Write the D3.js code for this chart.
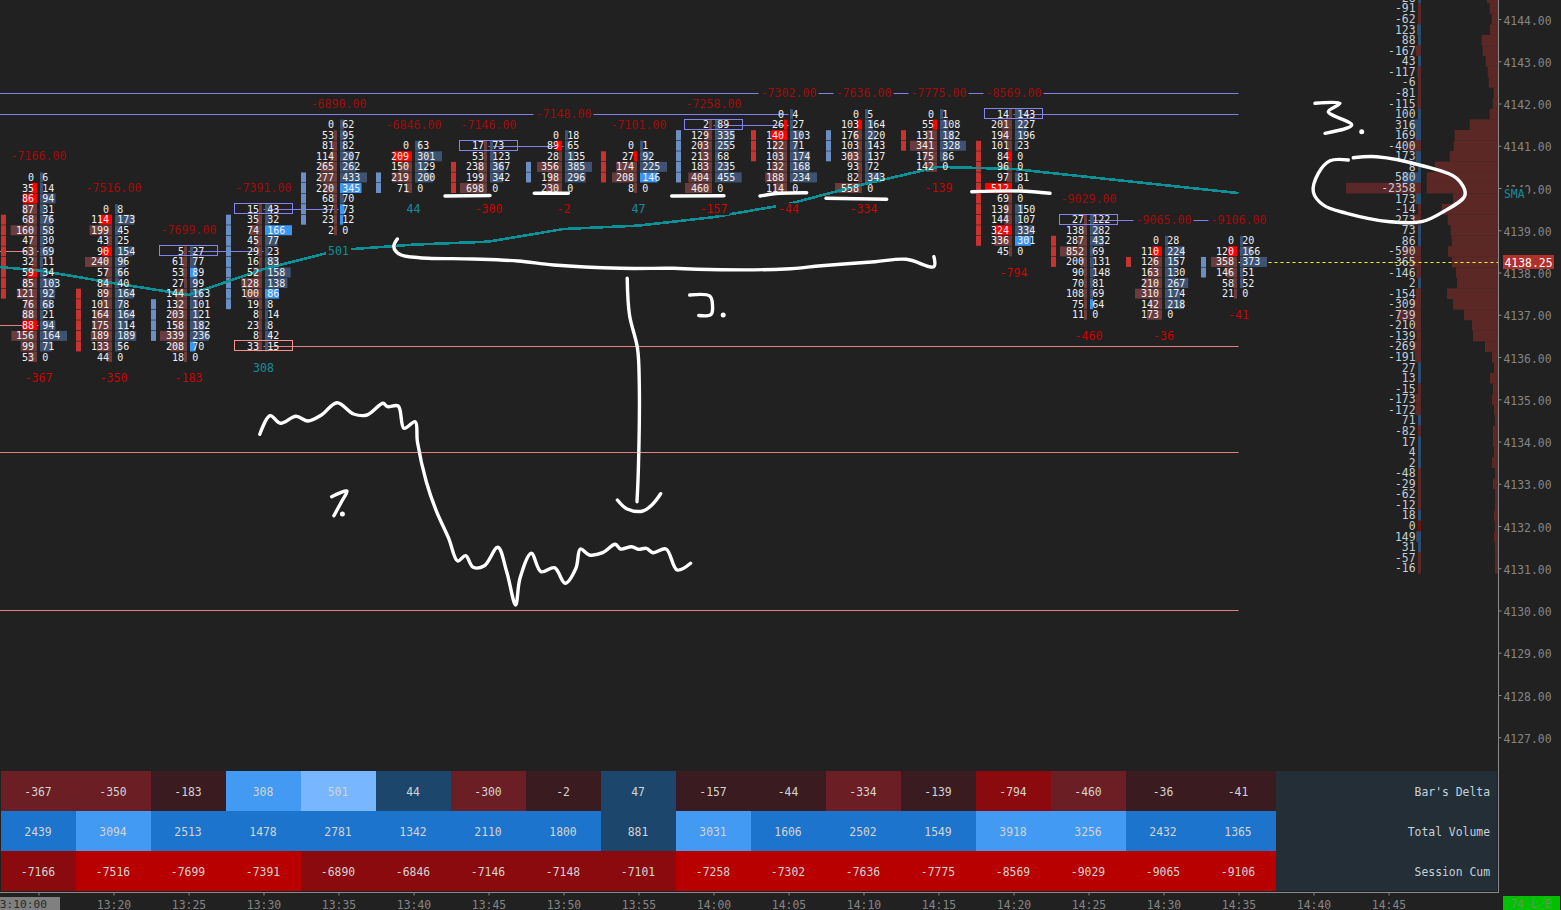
<!DOCTYPE html>
<html>
<head>
    <meta charset="utf-8">
    <title>Footprint chart</title>
    <script src="https://d3js.org/d3.v7.min.js"></script>
    <style>
        html, body { margin: 0; padding: 0; background: #212121; overflow: hidden; }
        svg { display: block; }
        text { font-family: "DejaVu Sans Mono", monospace; dominant-baseline: central; }
        .fp { font-size: 10px; fill: #f0f0f0; }
        .cum { font-size: 11.6px; fill: #a00c0c; text-anchor: middle; }
        .delta { font-size: 11.6px; text-anchor: middle; }
        .cell { font-size: 11.4px; fill: #d4d4d4; text-anchor: middle; }
        .rowname { font-size: 11.4px; fill: #c5d3dc; text-anchor: end; }
        .ladder { font-size: 11.4px; fill: #c6ced6; text-anchor: end; }
        .axis text { font-size: 11.4px; fill: #858585; }
        .axis line, .axis path { stroke: #8a8a8a; }
        .ink { fill: none; stroke: #fff; stroke-width: 3.4; stroke-linecap: round; stroke-linejoin: round; }
    </style>
</head>
<body>
<div id="chart"></div>
<script>
    // bars, top row first
    const barTimes = ["13:15","13:20","13:25","13:30","13:35","13:40","13:45","13:50","13:55","14:00","14:05","14:10","14:15","14:20","14:25","14:30","14:35"];
    const topPrices = [4140.25,4139.5,4138.5,4139.5,4141.5,4141,4141,4141.25,4141,4141.5,4141.75,4141.75,4141.75,4141.75,4139.25,4138.75,4138.75];
    const bidVolumes = [
        [0,35,86,87,68,160,47,63,32,59,85,121,76,88,88,156,99,53],
        [0,114,199,43,90,240,57,84,89,101,164,175,189,133,44],
        [5,61,53,27,144,132,203,158,339,208,18],
        [15,35,74,45,29,16,52,128,100,19,8,23,8,33],
        [0,53,81,114,265,277,220,68,37,23,2],
        [0,209,150,219,71],
        [17,53,238,199,698],
        [0,89,28,356,198,230],
        [0,27,174,208,8],
        [2,129,203,213,183,404,460],
        [0,26,140,122,103,132,188,114],
        [0,103,176,103,303,93,82,558],
        [0,55,131,341,175,142],
        [14,201,194,101,84,96,97,512,69,139,144,324,336,45],
        [27,138,287,852,200,90,70,108,75,11],
        [0,110,126,163,210,310,142,173],
        [0,120,358,146,58,21]
    ];
    const askVolumes = [
        [6,14,94,31,76,58,30,69,11,34,103,92,68,21,94,164,71,0],
        [8,173,45,25,154,96,66,40,164,78,164,114,189,56,0],
        [27,77,89,99,163,101,121,182,236,70,0],
        [43,32,166,77,23,83,158,138,86,8,14,8,42,15],
        [62,95,82,207,262,433,345,70,73,12,0],
        [63,301,129,200,0],
        [73,123,367,342,0],
        [18,65,135,385,296,0],
        [1,92,225,146,0],
        [89,335,255,68,235,455,0],
        [4,27,103,71,174,168,234,0],
        [5,164,220,143,137,72,343,0],
        [1,108,182,328,86,0],
        [143,227,196,23,0,0,81,0,0,150,107,334,301,0],
        [122,282,432,69,131,148,81,69,64,0],
        [28,224,157,130,267,174,218,0],
        [20,166,373,51,52,0]
    ];
    // row indexes shown in the bright colour
    const bidHot = [[1,2,9,14],[1,4],[],[],[],[1],[],[1],[1],[],[1,2],[1],[1],[4,7,11],[],[1],[1]];
    const askHot = [[],[],[2,9],[2,8],[6,8,9],[],[],[],[3],[],[],[],[],[12],[8],[],[]];
    // stacked imbalance runs: first row, last row, side
    const stackFirst = [4,8,5,1,5,3,2,3,1,1,2,2,2,3,2,2,2];
    const stackLast = [11,13,8,9,9,4,4,4,3,5,4,4,3,12,4,2,3];
    const stackSide = ["bid","bid","ask","ask","ask","ask","bid","ask","bid","ask","bid","ask","bid","bid","bid","bid","ask"];

    const barDelta = [-367,-350,-183,308,501,44,-300,-2,47,-157,-44,-334,-139,-794,-460,-36,-41];
    const totalVolume = [2439,3094,2513,1478,2781,1342,2110,1800,881,3031,1606,2502,1549,3918,3256,2432,1365];
    const sessionCum = [-7166,-7516,-7699,-7391,-6890,-6846,-7146,-7148,-7101,-7258,-7302,-7636,-7775,-8569,-9029,-9065,-9106];

    const smaTimes = ["13:10"].concat(barTimes);
    const smaValues = [4138.2,4138.05,4137.75,4137.47,4138.08,4138.53,4138.66,4138.73,4139.03,4139.11,4139.31,4139.62,4140.09,4140.5,4140.45,4140.26,4140.07,4139.88];

    // price, from, to
    const blueLevels = [[4142.25,"13:10","14:35"],[4141.75,"13:10","14:05"],[4141.75,"14:20","14:35"],[4141.5,"14:00","14:05"],[4141,"13:45","13:50"],[4139.5,"13:30","13:35"],[4139.25,"14:25","14:35"],[4138.5,"13:25","13:30"]];
    const pinkLevels = [[4138.5,"13:10","13:15"],[4136.75,"13:10","13:15"],[4136.25,"13:30","14:35"],[4133.75,"13:10","14:35"],[4130,"13:10","14:35"]];
    // boxes on the row: bar index, row index
    const blueBoxes = [[2,0],[3,0],[6,0],[9,0],[13,0],[14,0]];
    const pinkBoxes = [[3,13]];

    // session ladder and volume profile, from 4144.50 down to 4131.00
    const ladderTop = 4144.5;
    const ladderDelta = [28,-91,-62,123,88,-167,43,-117,-6,-81,-115,100,316,169,-400,173,8,580,-2358,173,-14,-273,73,86,-590,-365,-146,2,-154,-309,-739,-210,-139,-269,-191,27,13,-15,-173,-172,71,-82,17,4,2,-48,-29,-62,-12,18,0,149,31,-57,-16];
    const profileVolume = [1100,830,630,800,1630,1530,1230,1030,930,430,530,830,2830,4330,4430,4830,6330,7130,7130,4500,5630,5030,4730,4630,5000,4600,4200,4100,5100,4500,3400,2600,2500,1300,600,400,800,500,600,400,300,500,500,400,600,300,500,300,300,400,300,400,300,300,300];

    const priceTicks = d3.range(4127, 4145);
    const timeTicks = ["13:15","13:20","13:25","13:30","13:35","13:40","13:45","13:50","13:55","14:00","14:05","14:10","14:15","14:20","14:25","14:30","14:35","14:40","14:45"];
    const lastPrice = 4138.25;

    // freehand pen marks on top of the screenshot, page pixels
    const inkStrokes = [
        [[259.8,434.3],[270.1,415.7],[280.4,423.3],[296,416.3],[308,421],[321.4,415],[337,402.7],[353.6,414],[367,415],[383,403.3],[387.5,406.7],[398.2,406],[404,428.3],[415.2,421.7],[417.4,441.7],[426.3,481.7],[436.6,511.7],[448.7,538.3],[457.6,561],[465.6,555.7],[473.2,567.3],[484.4,565.7],[497.8,547.3],[506.7,571.7],[515.6,605],[520,578.3],[531.3,553.3],[541,571.7],[554.5,567.7],[565.2,583.3],[575.9,568.3],[580.4,549],[589.3,555],[602.7,552.7],[615.2,544.3],[620.5,549],[631.7,546.7],[638.4,549.3],[646.4,548.3],[653.1,552.7],[666,549],[677.2,570],[690.6,563.3]],
        [[331.7,496.7],[346.9,491],[341.5,501.7],[333.9,515.7]],
        [[397.3,239],[393.8,246.7],[399.6,254.3],[419.6,257.7],[473.2,259],[517.9,261],[553.6,265],[620.5,268.3],[674,268.3],[696.4,269.3],[785.7,269],[821.4,265.7],[875,261.7],[906.3,259.3],[933.9,266.7],[933.9,256.7]],
        [[627.2,278.3],[629.5,315],[637.5,348.3],[639.3,385],[638.4,468.3],[637,501.7]],
        [[617.4,500],[627.2,509],[642.9,511],[651.8,505],[660.7,493.7]],
        [[689.7,295],[709.8,296],[712.5,305],[711,314.5],[698.7,315.5]],
        [[445,196],[490,195.5]],
        [[534.3,193.3],[568.3,193.3]],
        [[671.7,196],[724,195.7]],
        [[760,196],[780,193.3],[806.7,192.7]],
        [[826,198.3],[886.7,199.3]],
        [[971.7,191.7],[1020,191],[1050,193.3]],
        [[1315,103.3],[1340,103.3],[1328.3,111.7],[1351.7,125],[1325,133.3]],
        [[1348.3,160],[1330,160.7],[1318.3,173.3],[1313.3,191.7],[1323.3,205],[1346.7,213.3],[1390,221.7],[1421.7,221.7],[1443.3,211.7],[1465,195],[1456.7,178.3],[1423.3,166],[1376.7,156.7],[1353.3,157.7]]
    ];
    const inkDots = [[342.4,514],[723.2,315],[1361.7,131.7]];

    const width = 1561, height = 910;
    const parseTime = d3.timeParse("%H:%M");
    const x = d3.scaleTime().domain([parseTime("13:15"), parseTime("14:45")]).range([38.5, 1388.5]);
    const y = d3.scaleLinear().domain([4144, 4127]).range([19, 737.25]);
    const rowStep = y(0) - y(0.25);
    const barX = i => x(parseTime(barTimes[i]));
    const rowPrice = (i, r) => topPrices[i] - r * 0.25;
    const bottomPrice = i => rowPrice(i, bidVolumes[i].length - 1);
    const axisRight = 1498.5, axisBottom = 892.5;
    const maxBarWidth = 27;

    const svg = d3.select("#chart").append("svg").attr("width", width).attr("height", height);
    svg.append("rect").attr("width", width).attr("height", height).attr("fill", "#212121");

    // session ladder + profile
    const ladderRows = ladderDelta.map((v, k) => ({ v, vol: profileVolume[k], price: ladderTop - k * 0.25 }));
    const ladderW = d3.scaleLinear().domain([0, 2358]).range([0, 75]);
    const profileW = d3.scaleLinear().domain([0, 7130]).range([0, 71.3]);
    svg.append("g").selectAll("rect").data(ladderRows).join("rect")
        .attr("x", d => axisRight - 0.5 - profileW(d.vol))
        .attr("y", d => y(d.price) - rowStep / 2)
        .attr("width", d => profileW(d.vol))
        .attr("height", rowStep + 0.2)
        .attr("fill", "#5b2826");
    svg.append("g").selectAll("rect").data(ladderRows).join("rect")
        .attr("x", d => 1421 - Math.max(3, ladderW(Math.abs(d.v))))
        .attr("y", d => y(d.price) - rowStep / 2)
        .attr("width", d => Math.max(3, ladderW(Math.abs(d.v))))
        .attr("height", rowStep + 0.2)
        .attr("fill", d => d.v > 0 ? "#2b4a70" : d.v === 0 ? "#6e1010" : "#5a2828");
    svg.append("g").selectAll("text").data(ladderRows).join("text")
        .attr("class", "ladder")
        .attr("x", 1415.5)
        .attr("y", d => y(d.price))
        .text(d => d.v);

    // level lines
    const crisp = v => Math.round(v - 0.01) + 0.5;
    const levelLine = (sel, rows, colour) => sel.append("g").selectAll("line").data(rows).join("line")
        .attr("x1", d => x(parseTime(d[1])))
        .attr("x2", d => x(parseTime(d[2])))
        .attr("y1", d => crisp(y(d[0])))
        .attr("y2", d => crisp(y(d[0])))
        .attr("stroke", colour);
    levelLine(svg, blueLevels, "#8080f0");
    levelLine(svg, pinkLevels, "#e87f7f");

    svg.append("line")
        .attr("x1", barX(16)).attr("x2", axisRight)
        .attr("y1", crisp(y(lastPrice))).attr("y2", crisp(y(lastPrice)))
        .attr("stroke", "#ffff00").attr("stroke-dasharray", "3,3");

    // footprint rows
    const rowData = [];
    bidVolumes.forEach((bids, i) => {
        const maxVol = d3.max(bids.concat(askVolumes[i]));
        bids.forEach((bid, r) => {
            rowData.push({ i, r, bid, ask: askVolumes[i][r], maxVol,
                bidOn: bidHot[i].includes(r), askOn: askHot[i].includes(r) });
        });
    });
    const volW = (v, maxVol) => v === 0 ? 0 : Math.max(3, v / maxVol * maxBarWidth);

    const rowBg = svg.append("g");
    rowBg.selectAll(".bidbg").data(rowData).join("rect")
        .attr("class", "bidbg")
        .attr("x", d => barX(d.i) - 1.5 - volW(d.bid, d.maxVol))
        .attr("y", d => y(rowPrice(d.i, d.r)) - 5)
        .attr("width", d => volW(d.bid, d.maxVol))
        .attr("height", 10)
        .attr("fill", d => d.bidOn ? "#ff0000" : "#6a3c3d");
    rowBg.selectAll(".askbg").data(rowData).join("rect")
        .attr("class", "askbg")
        .attr("x", d => barX(d.i) + 1.5)
        .attr("y", d => y(rowPrice(d.i, d.r)) - 5)
        .attr("width", d => volW(d.ask, d.maxVol))
        .attr("height", 10)
        .attr("fill", d => d.askOn ? "#3a96f5" : "#3e5272");

    // stacked imbalance ticks
    const stackData = [];
    stackFirst.forEach((first, i) => {
        d3.range(first, stackLast[i] + 1).forEach(r => stackData.push({ i, r, side: stackSide[i] }));
    });
    svg.append("g").selectAll("rect").data(stackData).join("rect")
        .attr("x", d => barX(d.i) - 37.5)
        .attr("y", d => y(rowPrice(d.i, d.r)) - 5)
        .attr("width", 5)
        .attr("height", 10)
        .attr("fill", d => d.side === "bid" ? "#c8322f" : "#6b8fc4");

    // SMA, the platform draws it without smoothing
    svg.append("path")
        .attr("d", d3.line().x((d, k) => x(parseTime(smaTimes[k]))).y(d => y(d))(smaValues))
        .attr("fill", "none")
        .attr("stroke", "#0e9096")
        .attr("stroke-width", 2.6)
        .attr("shape-rendering", "crispEdges");

    // boxes
    const boxes = (rows, colour) => svg.append("g").selectAll("rect").data(rows).join("rect")
        .attr("x", d => Math.round(barX(d[0]) - 29.5) + 0.5)
        .attr("y", d => Math.round(y(rowPrice(d[0], d[1])) - 5) - 0.5)
        .attr("width", 58)
        .attr("height", 10)
        .attr("fill", "none")
        .attr("stroke", colour);
    boxes(blueBoxes, "#8484f8");
    boxes(pinkBoxes, "#ff9090");

    // numbers in the rows
    const rowText = svg.append("g");
    rowText.selectAll(".b").data(rowData).join("text")
        .attr("class", "fp b")
        .attr("x", d => barX(d.i) - 4.5)
        .attr("y", d => y(rowPrice(d.i, d.r)))
        .attr("text-anchor", "end")
        .text(d => d.bid);
    rowText.selectAll(".a").data(rowData).join("text")
        .attr("class", "fp a")
        .attr("x", d => barX(d.i) + 3.8)
        .attr("y", d => y(rowPrice(d.i, d.r)))
        .text(d => d.ask);

    // labels above and below the bars, they sit on a patch of background
    const labelled = (rows, cls, getY, getText, getFill) => {
        const g = svg.append("g");
        g.selectAll("rect").data(rows).join("rect")
            .attr("x", (d, i) => barX(i) - getText(d).length * 3.5 - 2)
            .attr("y", (d, i) => getY(i) - 6)
            .attr("width", d => getText(d).length * 7 + 4)
            .attr("height", 12)
            .attr("fill", "#212121");
        const t = g.selectAll("text").data(rows).join("text")
            .attr("class", cls)
            .attr("x", (d, i) => barX(i))
            .attr("y", (d, i) => getY(i))
            .text(getText);
        if (getFill) t.attr("fill", getFill);
    };
    labelled(sessionCum, "cum", i => y(topPrices[i] + 0.5), d => d.toFixed(2));
    labelled(barDelta, "delta", i => y(bottomPrice(i) - 0.5), d => String(d), d => d > 0 ? "#148c9c" : "#cc0000");

    // table
    const deltaColour = v => v > 0
        ? d3.scaleThreshold().domain([100, 400]).range(["#1c466c", "#429af2", "#78b6ff"])(v)
        : d3.scaleThreshold().domain([200, 600]).range(["#3a1b20", "#6b1e23", "#8b0a0d"])(-v);
    const volumeColour = d3.scaleThreshold().domain([1000, 3000]).range(["#1c466c", "#1c74cc", "#429af2"]);
    const cumColour = d3.scaleThreshold().domain([-7200]).range(["#b80000", "#8b0a0d"]);
    const tableRows = [
        { name: "Bar's Delta", values: barDelta, colour: deltaColour },
        { name: "Total Volume", values: totalVolume, colour: volumeColour },
        { name: "Session Cum", values: sessionCum, colour: cumColour }
    ];
    const rowY = d3.scaleBand().domain(tableRows.map(d => d.name)).range([771, 891]);
    const tableRight = 1497;
    tableRows.forEach(row => {
        const g = svg.append("g").attr("transform", `translate(0,${rowY(row.name)})`);
        g.selectAll("rect").data(row.values).join("rect")
            .attr("x", (d, i) => barX(i) - 37.5)
            .attr("width", 75)
            .attr("height", rowY.bandwidth())
            .attr("fill", d => row.colour(d));
        g.selectAll("text").data(row.values).join("text")
            .attr("class", "cell")
            .attr("x", (d, i) => barX(i) - 0.5)
            .attr("y", rowY.bandwidth() / 2 + 1)
            .text(d => d);
        g.append("rect")
            .attr("x", barX(16) + 37.5)
            .attr("width", tableRight - barX(16) - 37.5)
            .attr("height", rowY.bandwidth())
            .attr("fill", "#232e36");
        g.append("text")
            .attr("class", "rowname")
            .attr("x", 1490)
            .attr("y", rowY.bandwidth() / 2 + 1)
            .text(row.name);
    });

    // axes
    const priceAxis = svg.append("g").attr("class", "axis")
        .attr("transform", `translate(${axisRight},0)`)
        .call(d3.axisRight(y).tickValues(priceTicks).tickFormat(d => d.toFixed(2)).tickSize(3).tickPadding(2));
    priceAxis.select(".domain").remove();
    priceAxis.selectAll("text").attr("dy", null).attr("y", 1);
    svg.append("line")
        .attr("x1", axisRight).attr("x2", axisRight).attr("y1", 0).attr("y2", axisBottom + 0.5)
        .attr("stroke", "#8a8a8a");

    // the first tick has no label, the session box sits there
    const fmtTime = d3.timeFormat("%H:%M");
    const timeAxis = svg.append("g").attr("class", "axis")
        .attr("transform", `translate(0,${axisBottom})`)
        .call(d3.axisBottom(x).tickValues(timeTicks.map(parseTime))
            .tickFormat(d => fmtTime(d) === timeTicks[0] ? "" : fmtTime(d)).tickSize(3).tickPadding(2));
    timeAxis.select(".domain").remove();
    timeAxis.selectAll("text").attr("dy", null).attr("y", 12);
    svg.append("line")
        .attr("x1", 0).attr("x2", axisRight).attr("y1", axisBottom).attr("y2", axisBottom)
        .attr("stroke", "#8a8a8a");

    // corner boxes
    svg.append("rect").attr("x", 0).attr("y", 897).attr("width", 60).attr("height", 13).attr("fill", "#808080");
    svg.append("text").attr("x", 47).attr("y", 904).attr("text-anchor", "end")
        .attr("font-size", 11.2).attr("fill", "#2a2a2a").text("3:10:00");
    svg.append("rect").attr("x", 1503).attr("y", 896).attr("width", 57).attr("height", 14).attr("fill", "#00c000");
    svg.append("text").attr("x", 1531).attr("y", 904).attr("text-anchor", "middle")
        .attr("font-size", 11.4).attr("fill", "#5f9a5f").text("74 L E");

    // last price + SMA tag on the axis
    svg.append("rect").attr("x", 1503).attr("y", 255).attr("width", 51).attr("height", 14).attr("fill", "#b0302a");
    svg.append("text").attr("x", 1528.5).attr("y", 262.5).attr("text-anchor", "middle")
        .attr("font-size", 11.4).attr("fill", "#fff").text(lastPrice.toFixed(2));
    svg.append("rect").attr("x", 1503).attr("y", 187).attr("width", 25).attr("height", 14).attr("fill", "#212121");
    svg.append("text").attr("x", 1504).attr("y", 194)
        .attr("font-size", 11.4).attr("fill", "#148c9c").text("SMA");

    // pen marks
    const inkLine = d3.line().curve(d3.curveCatmullRom.alpha(0.5));
    svg.append("g").selectAll("path").data(inkStrokes).join("path")
        .attr("class", "ink")
        .attr("d", d => inkLine(d));
    svg.append("g").selectAll("circle").data(inkDots).join("circle")
        .attr("cx", d => d[0]).attr("cy", d => d[1]).attr("r", 2.5).attr("fill", "#fff");
</script>
</body>
</html>
